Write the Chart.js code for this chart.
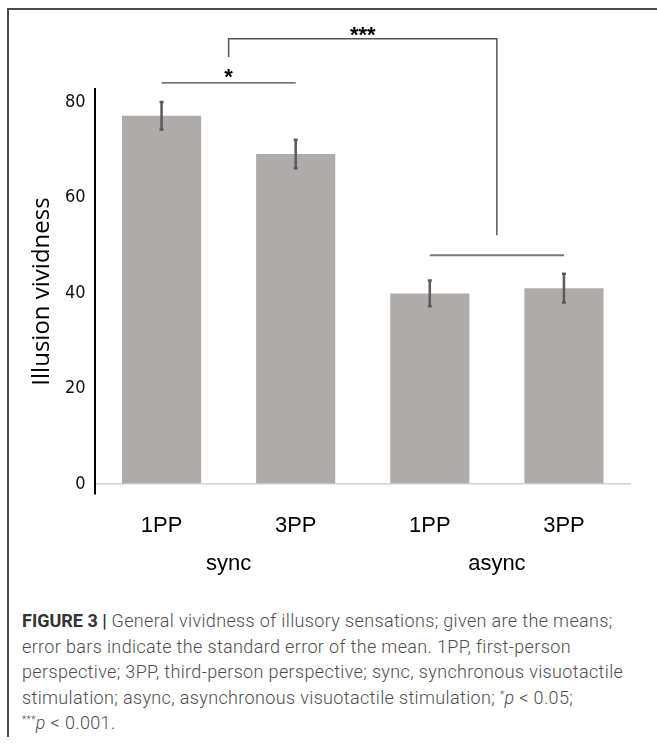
<!DOCTYPE html>
<html>
<head>
<meta charset="utf-8">
<script src="https://cdn.jsdelivr.net/npm/chart.js@4/dist/chart.umd.min.js"></script>
<style>
  html, body { margin:0; padding:0; background:#fff; width:657px; height:746px; overflow:hidden; }
  #frame { position:absolute; left:7px; top:8px; width:660px; height:729px;
           border-left:2px solid #4a4a4a; border-top:2px solid #4a4a4a; box-sizing:border-box; }
  #wrap { position:absolute; left:0; top:0; width:657px; height:600px; }
  #cap { position:absolute; left:22px; top:608px; font-family:Roboto, "Liberation Sans", sans-serif;
         font-weight:300; font-size:18px; letter-spacing:0.36px; line-height:25.5px; color:#4d4d4d; white-space:nowrap; }
  #cap b { font-weight:700; color:#333; letter-spacing:0; }
  #cap sup { font-size:10px; vertical-align:6px; line-height:0; }
</style>
</head>
<body>
<div id="frame"></div>
<div id="wrap"><canvas id="c" width="657" height="600"></canvas></div>
<div id="cap"><b>FIGURE 3 |</b> General vividness of illusory sensations; given are the means;<br>error bars indicate the standard error of the mean. 1PP, first-person<br>perspective; 3PP, third-person perspective; sync, synchronous visuotactile<br>stimulation; async, asynchronous visuotactile stimulation; <sup>*</sup><i>p</i> &lt; 0.05;<br><sup>***</sup><i>p</i> &lt; 0.001.</div>
<script>
// ---- data ----
const categories = ['1PP', '3PP', '1PP', '3PP'];
const groups = ['sync', 'async'];
const means = [77.1, 69.1, 39.9, 41.0];
const sems = [2.9, 3.0, 2.7, 3.0];
const yTicks = [0, 20, 40, 60, 80];
const yTitle = 'Illusion vividness';
// significance annotations (category indices, value levels)
const starFrom = [0, 1], starLevel = 84.0, starText = '*';
const tripleFrom = [0.5, 2.5], tripleLevel = 93.2, tripleLegEnds = [89.4, 52.1], tripleText = '***';
const asyncPair = [2, 3], asyncLevel = 47.9;

function xAt(xs, idx) {
  const i = Math.floor(idx), f = idx - i;
  const a = xs.getPixelForValue(i);
  if (f === 0) return a;
  const b = xs.getPixelForValue(i + 1);
  return a + (b - a) * f;
}

const overlay = {
  id: 'overlay',
  afterDatasetsDraw(chart) {
    const ctx = chart.ctx, xs = chart.scales.x, ys = chart.scales.y;
    ctx.save();
    // error bars
    ctx.strokeStyle = '#5a5a5a';
    ctx.lineWidth = 2.5;
    means.forEach((m, i) => {
      const x = xs.getPixelForValue(i);
      const yt = ys.getPixelForValue(m + sems[i]);
      const yb = ys.getPixelForValue(m - sems[i]);
      ctx.beginPath();
      ctx.moveTo(x, yt); ctx.lineTo(x, yb);
      ctx.moveTo(x - 2, yt); ctx.lineTo(x + 2, yt);
      ctx.moveTo(x - 2, yb); ctx.lineTo(x + 2, yb);
      ctx.stroke();
    });
    // * bracket
    ctx.strokeStyle = '#444';
    ctx.lineWidth = 1.3;
    let y = ys.getPixelForValue(starLevel);
    ctx.beginPath();
    ctx.moveTo(xAt(xs, starFrom[0]), y); ctx.lineTo(xAt(xs, starFrom[1]), y);
    ctx.stroke();
    ctx.fillStyle = '#000';
    ctx.font = 'bold 22px "Liberation Sans", Arial, sans-serif';
    ctx.textAlign = 'center';
    ctx.textBaseline = 'alphabetic';
    ctx.fillText(starText, (xAt(xs, starFrom[0]) + xAt(xs, starFrom[1])) / 2, y + 1);
    // *** bracket
    ctx.strokeStyle = '#555';
    ctx.lineWidth = 1.5;
    y = ys.getPixelForValue(tripleLevel);
    const x1 = xAt(xs, tripleFrom[0]), x2 = xAt(xs, tripleFrom[1]);
    ctx.beginPath();
    ctx.moveTo(x1, ys.getPixelForValue(tripleLegEnds[0]));
    ctx.lineTo(x1, y); ctx.lineTo(x2, y);
    ctx.lineTo(x2, ys.getPixelForValue(tripleLegEnds[1]));
    ctx.stroke();
    ctx.fillText(tripleText, (x1 + x2) / 2, y + 3);
    // async line
    ctx.strokeStyle = '#7a7a7a';
    ctx.lineWidth = 2;
    y = ys.getPixelForValue(asyncLevel);
    ctx.beginPath();
    ctx.moveTo(xs.getPixelForValue(asyncPair[0]), y);
    ctx.lineTo(xs.getPixelForValue(asyncPair[1]), y);
    ctx.stroke();
    ctx.restore();
  }
};

new Chart(document.getElementById('c'), {
  type: 'bar',
  data: {
    labels: categories,
    datasets: [{
      data: means,
      backgroundColor: '#afabaa',
      borderWidth: 0,
      categoryPercentage: 1,
      barPercentage: 0.59
    }]
  },
  options: {
    responsive: false,
    animation: false,
    events: [],
    layout: { padding: { left: 0, top: 89, right: 26, bottom: 9.6 } },
    plugins: { legend: { display: false }, tooltip: { enabled: false } },
    scales: {
      x: {
        type: 'category',
        position: 'bottom',
        weight: 0,
        afterFit(s) { s.height = 44; },
        grid: { display: false, drawTicks: false },
        border: { display: false },
        ticks: { color: '#000', padding: 19, font: { family: '"Liberation Sans", Arial, sans-serif', size: 22 } }
      },
      x2: {
        type: 'category',
        labels: groups,
        position: 'bottom',
        weight: 1,
        grid: { display: false, drawTicks: false },
        border: { display: false },
        ticks: { color: '#000', padding: 13, font: { family: '"Liberation Sans", Arial, sans-serif', size: 22 } }
      },
      y: {
        min: -2.1,
        max: 82.7,
        afterBuildTicks(s) { s.ticks = yTicks.map(v => ({ value: v })); },
        afterFit(s) { s.width = 94.5; },
        grid: {
          drawTicks: false,
          color: c => (c.tick && c.tick.value === 0) ? '#d2d2d2' : 'rgba(0,0,0,0)',
          lineWidth: 1.5
        },
        border: { display: true, color: '#000', width: 2 },
        ticks: { color: '#111', padding: 9, font: { family: '"Liberation Sans Narrow", "DejaVu Sans Condensed", sans-serif', size: 18 } },
        title: {
          display: true, text: yTitle, color: '#000',
          padding: { top: 28, bottom: 0 },
          font: { family: '"Open Sans", sans-serif', size: 24, weight: 'normal' }
        }
      }
    }
  },
  plugins: [overlay]
});
</script>
</body>
</html>
